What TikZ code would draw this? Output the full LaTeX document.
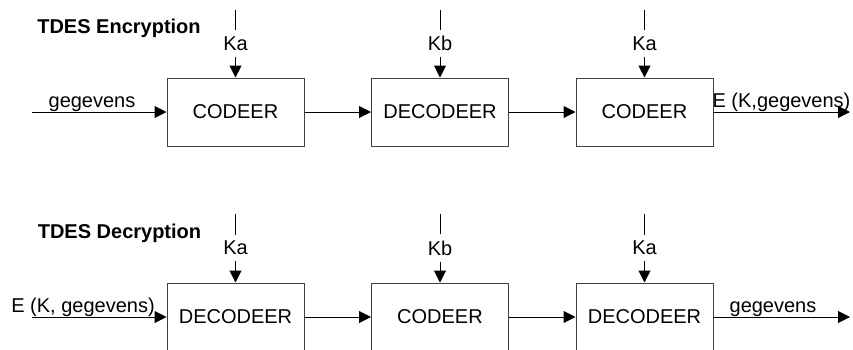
\documentclass[tikz,border=0pt]{standalone}
\usepackage{fontspec}
\setmainfont{Liberation Sans}
\usepackage{xcolor}
\usetikzlibrary{arrows.meta, positioning}

\begin{document}
\begin{tikzpicture}[
    x=0.5pt, y=-0.5pt,
    every node/.style={font=\fontsize{10}{12}\selectfont},
    block/.style ={rectangle, draw=black!75, line width=0.5pt,
                   minimum width=68.5pt, minimum height=34pt, inner sep=0pt},
    keylabel/.style={inner xsep=0pt, inner ysep=3pt},
    title/.style ={font=\fontsize{10}{12}\selectfont\bfseries,
                   anchor=base, inner sep=0pt},
    datalabel/.style={anchor=base, inner sep=0pt},
    arrow/.style ={-{Triangle[length=6pt, width=6pt]}, line width=0.5pt}
]
\useasboundingbox (0,0) rectangle (853,349);
\clip (0,0) rectangle (853,349);

%% --- ligne supérieure : chiffrement ---
\node[title] (tenc) at (119,33) {TDES Encryption};
\node[block] (enc1) at (235.5,112) {CODEER};
\node[block] (enc2) at (440,112)   {DECODEER};
\node[block] (enc3) at (644.5,112) {CODEER};

%% --- clés du chiffrement ---
\coordinate (ek1top) at (235.5,10);
\coordinate (ek2top) at (440,10);
\coordinate (ek3top) at (644.5,10);
\node[keylabel] (ek1) at (235.5,43.5) {Ka};
\node[keylabel] (ek2) at (440,43.5)   {Kb};
\node[keylabel] (ek3) at (644.5,43.5) {Ka};
\draw (ek1top) -- (ek1);
\draw (ek2top) -- (ek2);
\draw (ek3top) -- (ek3);
\draw[arrow] (ek1) -- (enc1);
\draw[arrow] (ek2) -- (enc2);
\draw[arrow] (ek3) -- (enc3);

%% --- flot du chiffrement ---
\coordinate (ein)  at (32,112);
\coordinate (eout) at (850,112);
\draw[arrow] (ein) -- (enc1);
\draw[arrow] (enc1) -- (enc2);
\draw[arrow] (enc2) -- (enc3);
\draw[arrow] (enc3) -- (eout);
\node[datalabel] (ein lab)  at (92,107)    {gegevens};
\node[datalabel] (eout lab) at (781.5,107) {E (K,gegevens)};

%% --- ligne inférieure : déchiffrement ---
\node[title] (tdec) at (119.5,238) {TDES Decryption};
\node[block] (dec1) at (235.5,317) {DECODEER};
\node[block] (dec2) at (440,317)   {CODEER};
\node[block] (dec3) at (644.5,317) {DECODEER};

%% --- clés du déchiffrement ---
\coordinate (dk1top) at (235.5,214);
\coordinate (dk2top) at (440,214);
\coordinate (dk3top) at (644.5,214);
\node[keylabel] (dk1) at (235.5,248) {Ka};
\node[keylabel] (dk2) at (440,248)   {Kb};
\node[keylabel] (dk3) at (644.5,248) {Ka};
\draw (dk1top) -- (dk1);
\draw (dk2top) -- (dk2);
\draw (dk3top) -- (dk3);
\draw[arrow] (dk1) -- (dec1);
\draw[arrow] (dk2) -- (dec2);
\draw[arrow] (dk3) -- (dec3);

%% --- flot du déchiffrement ---
\coordinate (din)  at (32,317);
\coordinate (dout) at (850,317);
\draw[arrow] (din) -- (dec1);
\draw[arrow] (dec1) -- (dec2);
\draw[arrow] (dec2) -- (dec3);
\draw[arrow] (dec3) -- (dout);
\node[datalabel] (din lab)  at (83,312)  {E (K, gegevens)};
\node[datalabel] (dout lab) at (773,312) {gegevens};
\end{tikzpicture}
\end{document}
